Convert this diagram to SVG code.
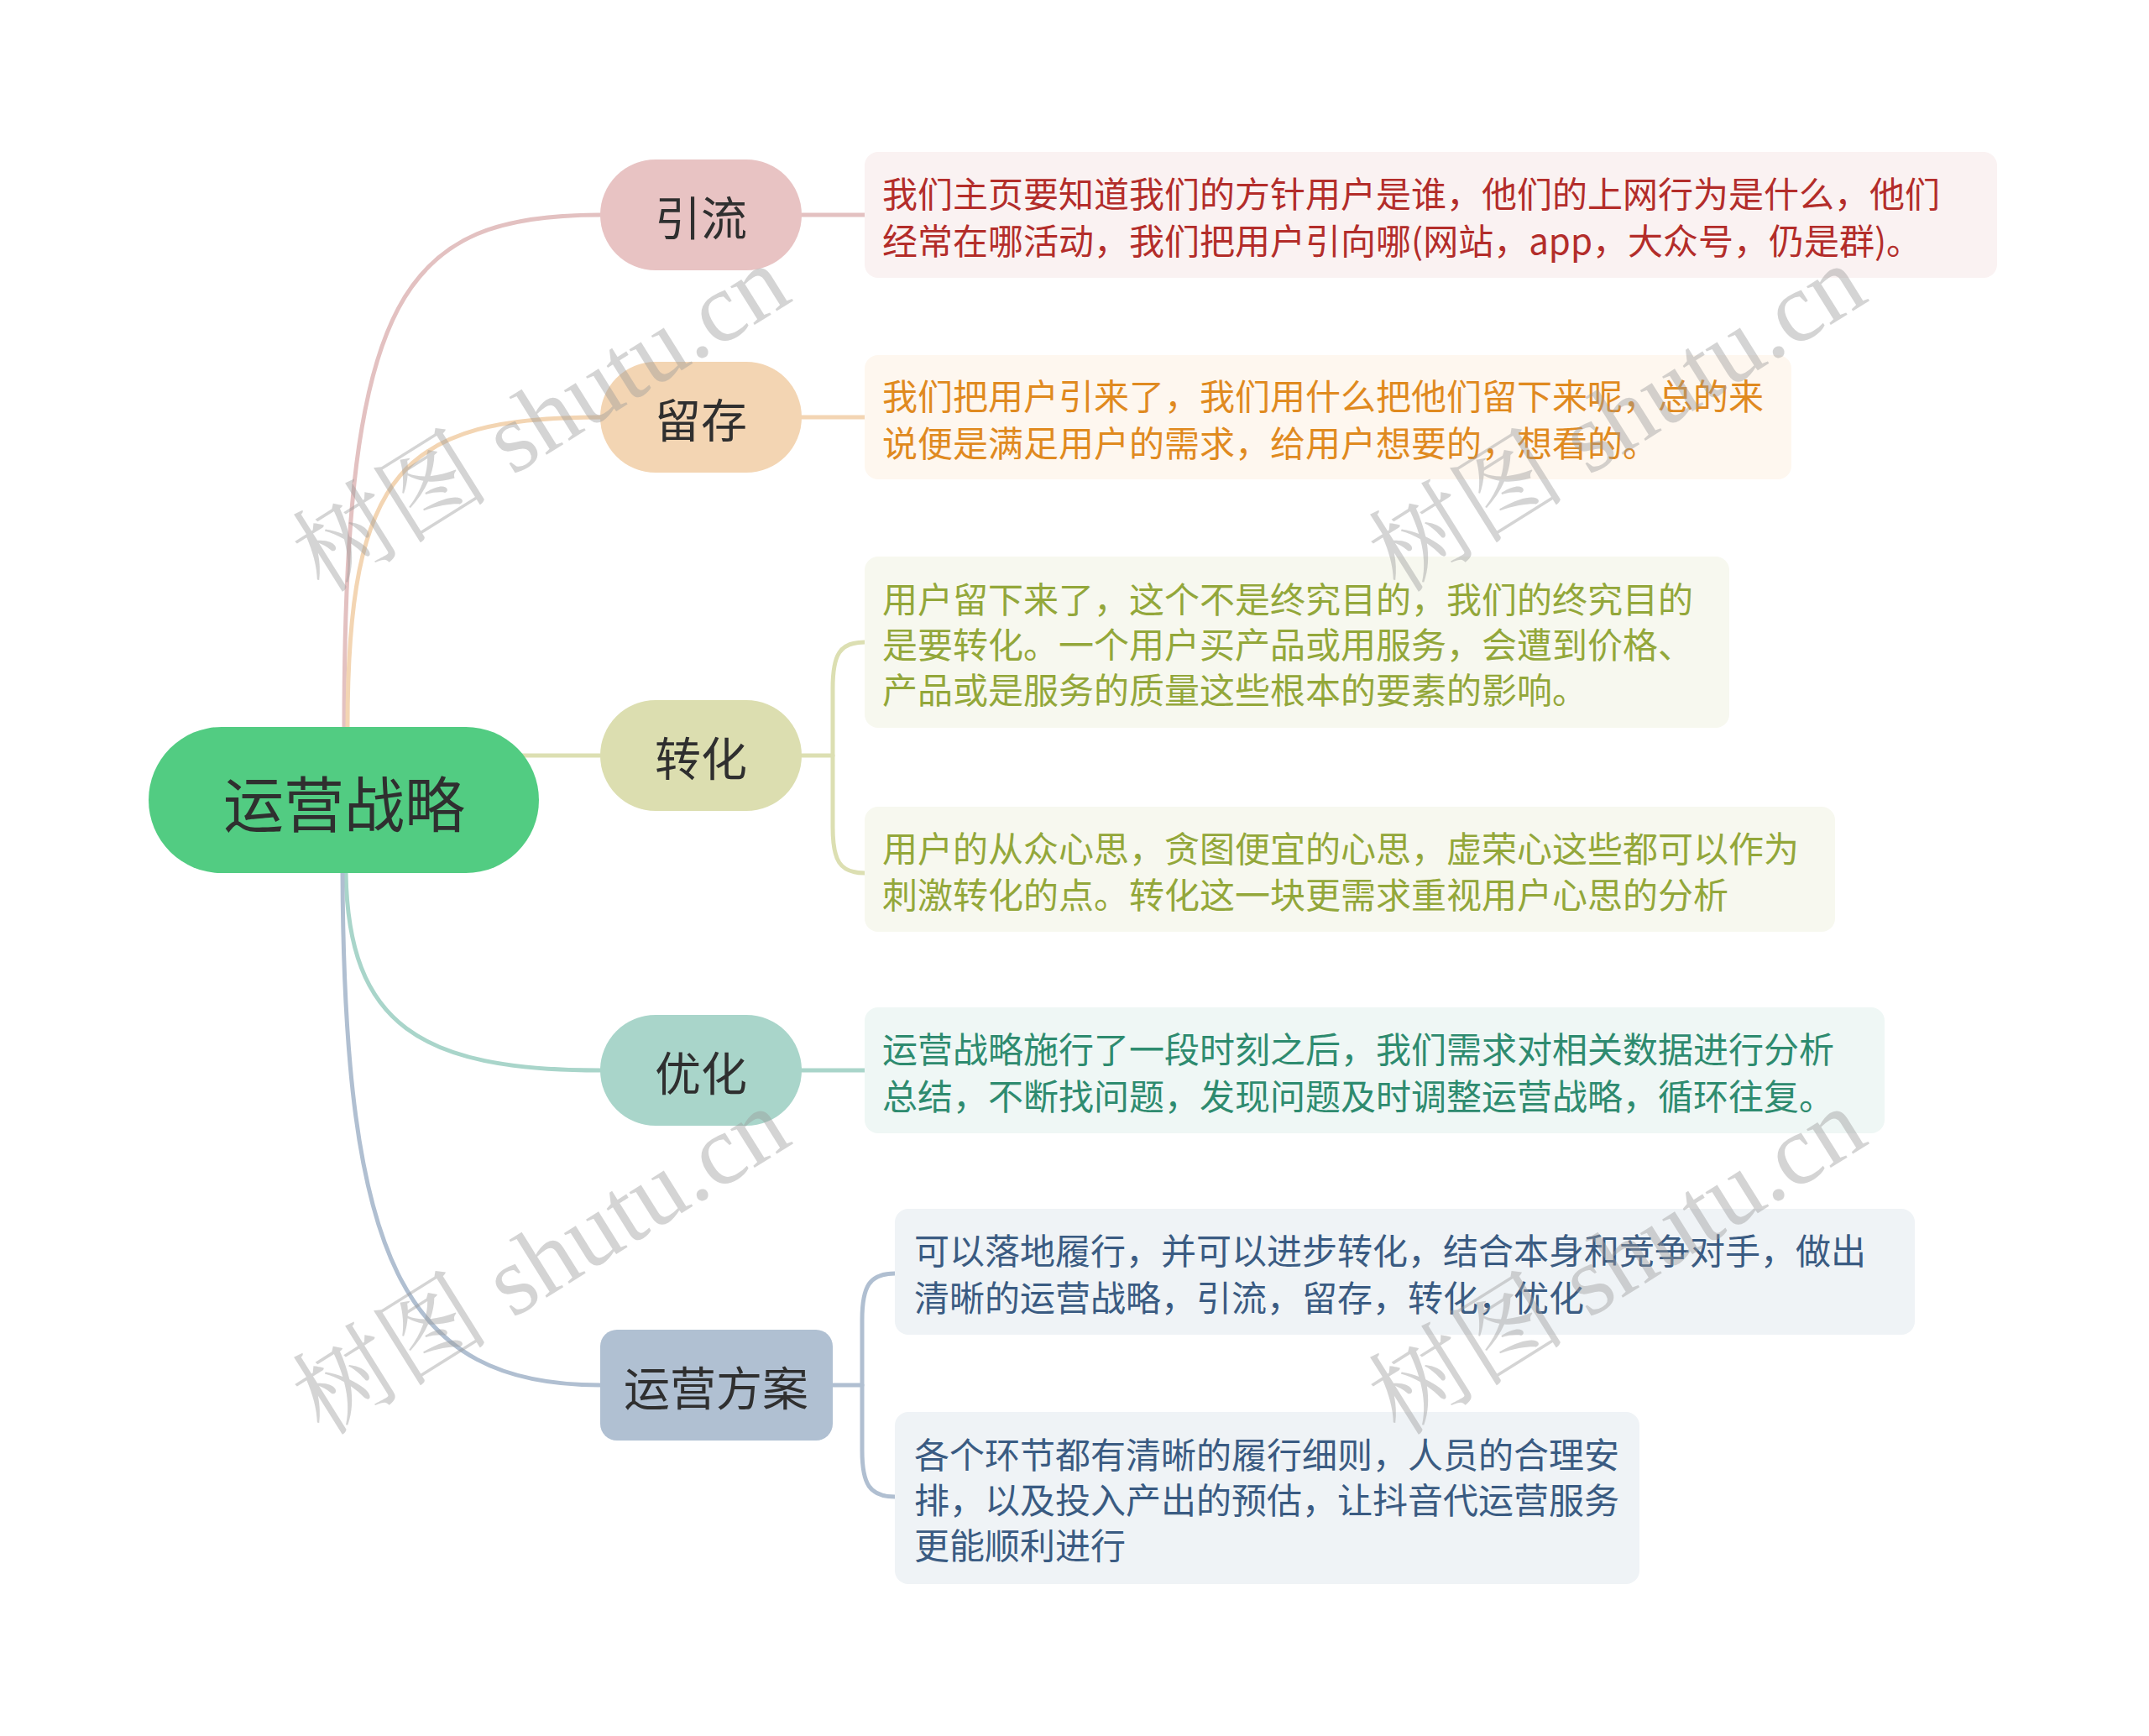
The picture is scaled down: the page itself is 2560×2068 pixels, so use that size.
<svg xmlns="http://www.w3.org/2000/svg" width="2560" height="2068" viewBox="0 0 2560 2068">
<style>
.n{font-family:"Noto Sans CJK SC","Noto Sans",sans-serif;fill:#2f2f2f;text-anchor:middle;dominant-baseline:central}
.t{font-family:"Noto Sans CJK SC","Noto Sans",sans-serif;font-size:42px;dominant-baseline:central}
.c{fill:none;stroke-width:5;stroke-linecap:round}
.wm{font-family:"Liberation Serif","Noto Serif CJK SC","Noto Sans CJK SC",serif;font-size:118px;fill:#9a9a9a;opacity:0.42}
</style>
<rect width="2560" height="2068" fill="#ffffff"/>
<g id="connectors">
<path class="c" stroke="#e3c1c1" d="M410 867 C410 350 480 256 715 256"/>
<path class="c" stroke="#f3d5b3" d="M414 867 C414 560 480 497 715 497"/>
<path class="c" stroke="#dcdfb2" d="M622 900 L715 900"/>
<path class="c" stroke="#a9d5ca" d="M412 1040 C415 1220 500 1275 715 1275"/>
<path class="c" stroke="#b0bfd1" d="M408 1040 C410 1500 480 1650 715 1650"/>
<path class="c" stroke="#e3c1c1" d="M955 256 L1030 256"/>
<path class="c" stroke="#f3d5b3" d="M955 497 L1030 497"/>
<path class="c" stroke="#dcdfb2" d="M955 900 L992 900"/>
<path class="c" stroke="#dcdfb2" d="M1030 765 C1000 765 992 780 992 820 L992 985 C992 1025 1000 1040 1030 1040"/>
<path class="c" stroke="#a9d5ca" d="M955 1275 L1030 1275"/>
<path class="c" stroke="#b0bfd1" d="M991 1650 L1027 1650"/>
<path class="c" stroke="#b0bfd1" d="M1066 1517 C1036 1517 1027 1532 1027 1572 L1027 1728 C1027 1768 1036 1783 1066 1783"/>
</g>
<g id="root">
<rect x="177" y="866" width="465" height="174" rx="87" fill="#52cc82"/>
<text class="n" x="410" y="953" font-size="72">运营战略</text>
</g>
<g id="n-yinliu">
<rect x="715" y="190" width="240" height="132" rx="66" fill="#e8c3c3"/>
<text class="n" x="835" y="256" font-size="55">引流</text>
</g>
<g id="n-liucun">
<rect x="715" y="431" width="240" height="132" rx="66" fill="#f3d5b3"/>
<text class="n" x="835" y="497" font-size="55">留存</text>
</g>
<g id="n-zhuanhua">
<rect x="715" y="834" width="240" height="132" rx="66" fill="#dcdeb0"/>
<text class="n" x="835" y="900" font-size="55">转化</text>
</g>
<g id="n-youhua">
<rect x="715" y="1209" width="240" height="132" rx="66" fill="#a9d5ca"/>
<text class="n" x="835" y="1275" font-size="55">优化</text>
</g>
<g id="n-fangan">
<rect x="715" y="1584" width="277" height="132" rx="20" fill="#b0c0d2"/>
<text class="n" x="853" y="1650" font-size="55">运营方案</text>
</g>
<g id="d-yinliu">
<rect x="1030" y="181" width="1349" height="150" rx="16" fill="#faf2f2"/>
<text class="t" fill="#b32d2a" x="1051" y="228">我们主页要知道我们的方针用户是谁，他们的上网行为是什么，他们</text>
<text class="t" fill="#b32d2a" x="1051" y="284">经常在哪活动，我们把用户引向哪(网站，app，大众号，仍是群)。</text>
</g>
<g id="d-liucun">
<rect x="1030" y="423" width="1104" height="148" rx="16" fill="#fef7ef"/>
<text class="t" fill="#e08a1f" x="1051" y="469">我们把用户引来了，我们用什么把他们留下来呢，总的来</text>
<text class="t" fill="#e08a1f" x="1051" y="525">说便是满足用户的需求，给用户想要的，想看的。</text>
</g>
<g id="d-zhuanhua1">
<rect x="1030" y="663" width="1030" height="204" rx="16" fill="#f7f8ef"/>
<text class="t" fill="#93a73a" x="1051" y="711">用户留下来了，这个不是终究目的，我们的终究目的</text>
<text class="t" fill="#93a73a" x="1051" y="765">是要转化。一个用户买产品或用服务，会遭到价格、</text>
<text class="t" fill="#93a73a" x="1051" y="819">产品或是服务的质量这些根本的要素的影响。</text>
</g>
<g id="d-zhuanhua2">
<rect x="1030" y="961" width="1156" height="149" rx="16" fill="#f7f8ef"/>
<text class="t" fill="#93a73a" x="1051" y="1008">用户的从众心思，贪图便宜的心思，虚荣心这些都可以作为</text>
<text class="t" fill="#93a73a" x="1051" y="1063">刺激转化的点。转化这一块更需求重视用户心思的分析</text>
</g>
<g id="d-youhua">
<rect x="1030" y="1200" width="1215" height="150" rx="16" fill="#eff7f5"/>
<text class="t" fill="#2e8b6f" x="1051" y="1247">运营战略施行了一段时刻之后，我们需求对相关数据进行分析</text>
<text class="t" fill="#2e8b6f" x="1051" y="1303">总结，不断找问题，发现问题及时调整运营战略，循环往复。</text>
</g>
<g id="d-fangan1">
<rect x="1066" y="1440" width="1215" height="150" rx="16" fill="#eff3f6"/>
<text class="t" fill="#3a5b82" x="1089" y="1487">可以落地履行，并可以进步转化，结合本身和竞争对手，做出</text>
<text class="t" fill="#3a5b82" x="1089" y="1543">清晰的运营战略，引流，留存，转化，优化</text>
</g>
<g id="d-fangan2">
<rect x="1066" y="1682" width="887" height="205" rx="16" fill="#eff3f6"/>
<text class="t" fill="#3a5b82" x="1089" y="1730">各个环节都有清晰的履行细则，人员的合理安</text>
<text class="t" fill="#3a5b82" x="1089" y="1784">排，以及投入产出的预估，让抖音代运营服务</text>
<text class="t" fill="#3a5b82" x="1089" y="1838">更能顺利进行</text>
</g>
<g id="watermarks">
<text class="wm" transform="translate(385 708) rotate(-32)">树图 shutu.cn</text>
<text class="wm" transform="translate(1667 708) rotate(-32)">树图 shutu.cn</text>
<text class="wm" transform="translate(385 1712) rotate(-32)">树图 shutu.cn</text>
<text class="wm" transform="translate(1667 1712) rotate(-32)">树图 shutu.cn</text>
</g>
</svg>
